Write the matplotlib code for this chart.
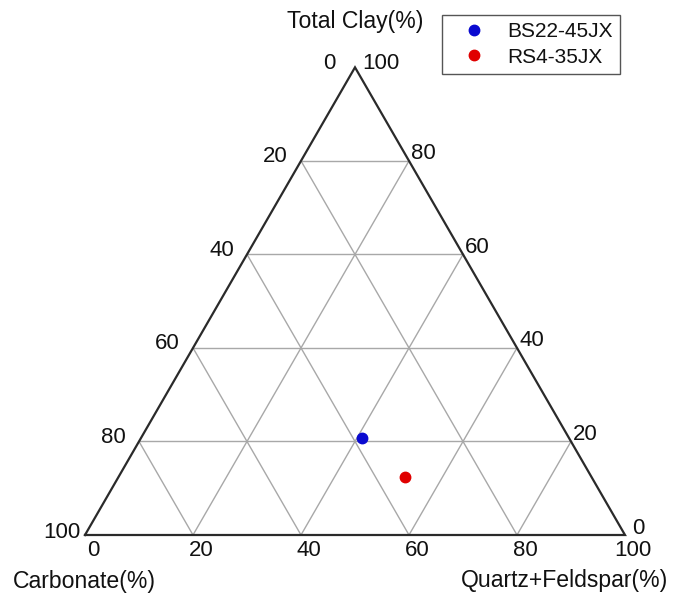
import numpy as np
import matplotlib
matplotlib.use("Agg")
import matplotlib.pyplot as plt

plt.rcParams['font.family'] = ['Liberation Sans', 'DejaVu Sans']

# ---- data (percent) ----
samples = ["BS22-45JX", "RS4-35JX"]
clay = [20.7, 12.5]
quartz_feldspar = [40.9, 53.0]
carbonate = [38.4, 34.5]
colors = ["#0a0ad0", "#e00000"]

grid_levels = [20, 40, 60, 80]
tick_values = [0, 20, 40, 60, 80, 100]

W, H, DPI = 673, 598, 100
S3 = np.sqrt(3) / 2


def tern(c, q):
    """clay %, quartz % -> cartesian (unit triangle)."""
    c = np.asarray(c) / 100.0
    q = np.asarray(q) / 100.0
    return q + c / 2.0, c * S3


fig = plt.figure(figsize=(W / DPI, H / DPI), dpi=DPI)
ax = fig.add_axes([0, 0, 1, 1])
# left vertex at pixel (85,535), side 540 px
side = 540.0
x0, ybot = 85.0, 535.0
ax.set_xlim(-x0 / side, (W - x0) / side)
ax.set_ylim(-(H - ybot) / side, ybot / side)
ax.axis('off')

gcol = "#a8a8a8"
for g in grid_levels:
    # constant clay
    xa, ya = tern([g, g], [0, 100 - g])
    ax.plot(xa, ya, color=gcol, lw=1.0, zorder=1)
    # constant quartz
    xa, ya = tern([0, 100 - g], [g, g])
    ax.plot(xa, ya, color=gcol, lw=1.0, zorder=1)
    # constant carbonate
    xa, ya = tern([0, 100 - g], [100 - g, 0])
    ax.plot(xa, ya, color=gcol, lw=1.0, zorder=1)

# outline
xa, ya = tern([0, 0, 100, 0], [0, 100, 0, 0])
ax.plot(xa, ya, color="#2a2a2a", lw=1.6, zorder=2, solid_joinstyle='miter')

# points
for name, c, q, col in zip(samples, clay, quartz_feldspar, colors):
    px, py = tern(c, q)
    ax.plot(px, py, 'o', color=col, ms=7.5, label=name, zorder=3, mec=col)

fs_tick = 16
pt = 72.0 / DPI


def lab(txt, c, q, dx, dy, ha, va):
    px, py = tern(c, q)
    ax.annotate(txt, (px, py), xytext=(dx * pt, dy * pt), textcoords='offset points',
                ha=ha, va=va, fontsize=fs_tick, color="#111111")


# left edge: carbonate values (clay = 100 - v)
for v in tick_values:
    if v == 0:
        lab(str(v), 100, 0, -19, 4, 'right', 'center')
    elif v == 100:
        lab(str(v), 0, 0, -5, 3, 'right', 'center')
    else:
        lab(str(v), 100 - v, 0, -13, 4, 'right', 'center')

# right edge: clay values
for v in tick_values:
    if v == 100:
        lab(str(v), 100, 0, 7, 4, 'left', 'center')
    elif v == 0:
        lab(str(v), 0, 100, 7, 6, 'left', 'center')
    else:
        lab(str(v), v, 100 - v, 2, 7, 'left', 'center')

# bottom: quartz+feldspar values
for v in tick_values:
    lab(str(v), 0, v, 8, -16, 'center', 'center')

fs_title = 16.6
fig.text(355 / W, 1 - 21.7 / H, "Total Clay(%)", ha='center', va='center', fontsize=fs_title, color="#111111")
fig.text(84.5 / W, 1 - 581.7 / H, "Carbonate(%)", ha='center', va='center', fontsize=fs_title, color="#111111")
fig.text(565 / W, 1 - 580 / H, "Quartz+Feldspar(%)", ha='center', va='center', fontsize=fs_title, color="#111111")

leg = ax.legend(loc='upper left', bbox_to_anchor=(442 / W, 1 - 15 / H), bbox_transform=fig.transFigure,
                borderaxespad=0, fontsize=15, frameon=True, fancybox=False, framealpha=1,
                edgecolor="#555555", handlelength=2.37, handletextpad=0.4, borderpad=0.35,
                labelspacing=0.3, numpoints=1, markerscale=1.0)
leg.get_frame().set_linewidth(1.0)
for t in leg.get_texts():
    t.set_color("#111111")

fig.savefig("out.png", dpi=DPI)
